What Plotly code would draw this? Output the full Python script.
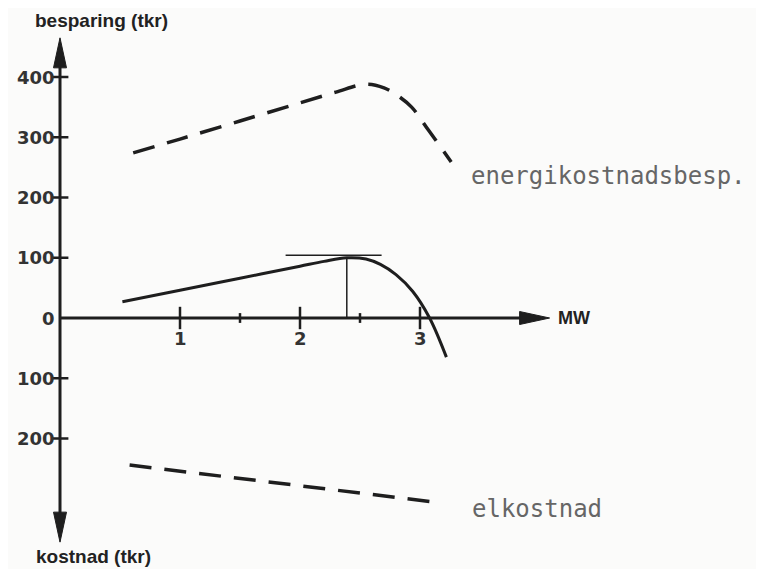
import plotly.graph_objects as go

# ---- data ----
net_x = [0.52, 1.0, 1.5, 2.0, 2.2, 2.39, 2.55, 2.67, 2.8, 2.94, 3.08, 3.22]
net_y = [27, 46, 66, 86, 94, 100, 98, 89, 72, 44, 0, -65]

savings_x = [0.61, 1.0, 1.5, 2.0, 2.3, 2.55, 2.7, 2.8, 2.93, 3.07, 3.26]
savings_y = [274, 297, 327, 357, 375, 388, 382, 371, 350, 312, 259]

cost_x = [0.58, 1.94, 3.18]
cost_y = [-244, -277, -307]

optimum_x = 2.39
optimum_y = 100
tangent_x = [1.88, 2.68]
tangent_y = 104

y_ticks = [400, 300, 200, 100, 0, -100, -200]
y_tick_text = ["400", "300", "200", "100", "0", "100", "200"]
x_major = [1, 2, 3]
x_minor = [1.5, 2.5]

x_axis_end = 4.08
y_axis_top = 465
y_axis_bottom = -372

# ---- geometry (page has an 8px body margin) ----
OFF = 8
W, H = 764 - OFF, 569 - OFF
PX_X = 120.0
PX_Y = 0.6025
X0 = 60 - OFF   # pixel of x=0 inside figure
Y0 = 318 - OFF  # pixel of y=0 inside figure
x_range = [-X0 / PX_X, (W - X0) / PX_X]
y_range = [-(H - Y0) / PX_Y, Y0 / PX_Y]

INK = "#1e1e1e"
fig = go.Figure()

# axes lines
fig.add_trace(go.Scatter(x=[0, 0], y=[y_axis_bottom + 20 / PX_Y, y_axis_top - 20 / PX_Y],
                         mode="lines", line=dict(color=INK, width=3), hoverinfo="skip"))
fig.add_trace(go.Scatter(x=[0, x_axis_end - 20 / PX_X], y=[0, 0],
                         mode="lines", line=dict(color=INK, width=3), hoverinfo="skip"))

# arrowheads
L, HW = 30, 6.5
fig.add_trace(go.Scatter(x=[0, -HW / PX_X, HW / PX_X, 0],
                         y=[y_axis_top, y_axis_top - L / PX_Y, y_axis_top - L / PX_Y, y_axis_top],
                         mode="lines", fill="toself", fillcolor=INK, line=dict(color=INK, width=1)))
fig.add_trace(go.Scatter(x=[0, -HW / PX_X, HW / PX_X, 0],
                         y=[y_axis_bottom, y_axis_bottom + L / PX_Y, y_axis_bottom + L / PX_Y, y_axis_bottom],
                         mode="lines", fill="toself", fillcolor=INK, line=dict(color=INK, width=1)))
fig.add_trace(go.Scatter(x=[x_axis_end, x_axis_end - L / PX_X, x_axis_end - L / PX_X, x_axis_end],
                         y=[0, HW / PX_Y, -HW / PX_Y, 0],
                         mode="lines", fill="toself", fillcolor=INK, line=dict(color=INK, width=1)))

# ticks
yt = [v for v in y_ticks if v != 0]
fig.add_trace(go.Scatter(x=[0] * len(yt), y=yt, mode="markers",
                         marker=dict(symbol="line-ew", size=12, line=dict(color=INK, width=2.5))))
fig.add_trace(go.Scatter(x=x_major, y=[0] * len(x_major), mode="markers",
                         marker=dict(symbol="line-ns", size=16, line=dict(color=INK, width=2.5))))
fig.add_trace(go.Scatter(x=x_minor, y=[0] * len(x_minor), mode="markers",
                         marker=dict(symbol="line-ns", size=7, line=dict(color=INK, width=2.5))))

# curves
fig.add_trace(go.Scatter(x=savings_x, y=savings_y, mode="lines", line_shape="spline",
                         line=dict(color=INK, width=3.5, dash="22px,13px")))
fig.add_trace(go.Scatter(x=cost_x, y=cost_y, mode="lines",
                         line=dict(color=INK, width=3.5, dash="22px,13px")))
fig.add_trace(go.Scatter(x=net_x, y=net_y, mode="lines", line_shape="spline",
                         line=dict(color=INK, width=3)))
fig.add_trace(go.Scatter(x=[optimum_x, optimum_x], y=[0, optimum_y], mode="lines",
                         line=dict(color=INK, width=1.5)))
fig.add_trace(go.Scatter(x=tangent_x, y=[tangent_y, tangent_y], mode="lines",
                         line=dict(color=INK, width=1.5)))

ann = []
tick_font = dict(family="DejaVu Sans, Arial, sans-serif", size=18, color="#333")
for v, t in zip(y_ticks, y_tick_text):
    ann.append(dict(x=0, y=v, text="<b>" + t + "</b>", showarrow=False, xanchor="right",
                    yanchor="middle", xshift=-3, font=tick_font))
for v in x_major:
    ann.append(dict(x=v, y=0, text="<b>" + str(v) + "</b>", showarrow=False, xanchor="center",
                    yanchor="middle", yshift=-20, font=tick_font))

label_font = dict(family="Liberation Sans Narrow, Arial Narrow, Liberation Sans, sans-serif",
                  size=19, color="#222")
ann.append(dict(x=0, y=y_axis_top + 17 / PX_Y, text="<b>besparing (tkr)</b>", showarrow=False,
                xanchor="center", yanchor="middle", xshift=41, borderpad=0, font=label_font))
ann.append(dict(x=0, y=y_axis_bottom - 14 / PX_Y, text="<b>kostnad (tkr)</b>", showarrow=False,
                xanchor="center", yanchor="middle", xshift=33, borderpad=0, font=label_font))
ann.append(dict(x=x_axis_end, y=0, text="<b>MW</b>", showarrow=False, xanchor="left",
                yanchor="middle", xshift=6, font=dict(family="Liberation Sans, Arial", size=18, color="#222")))

mono = dict(family="DejaVu Sans Mono, monospace", size=24, color="#666666")
ann.append(dict(x=savings_x[-1], y=savings_y[-1], text="energikostnadsbesp.", showarrow=False,
                xanchor="left", yanchor="middle", xshift=18, yshift=-14, font=mono))
ann.append(dict(x=cost_x[-1], y=cost_y[-1], text="elkostnad", showarrow=False,
                xanchor="left", yanchor="middle", xshift=28, yshift=-6, font=mono))

fig.update_layout(
    width=W, height=H, autosize=False,
    margin=dict(l=0, r=0, t=0, b=0),
    paper_bgcolor="#fbfbfa", plot_bgcolor="#fbfbfa",
    showlegend=False,
    xaxis=dict(range=x_range, visible=False, fixedrange=True),
    yaxis=dict(range=y_range, visible=False, fixedrange=True),
    annotations=ann,
)

fig.write_html("out.html")
